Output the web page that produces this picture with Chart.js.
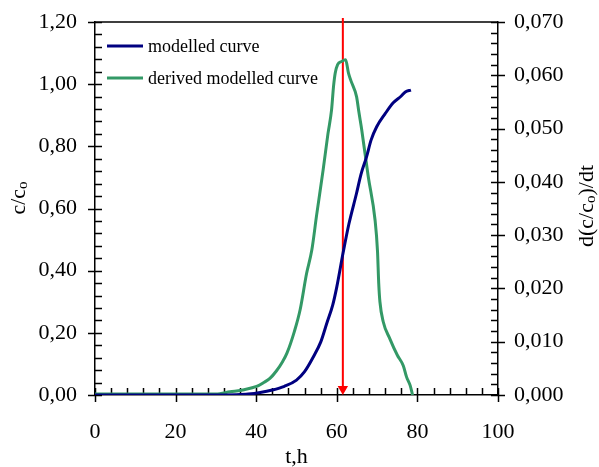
<!DOCTYPE html>
<html>
<head>
<meta charset="utf-8">
<script src="https://cdn.jsdelivr.net/npm/chart.js@4/dist/chart.umd.min.js"></script>
<style>
html, body { margin: 0; padding: 0; background: #fff; }
</style>
</head>
<body>
<canvas id="myChart" width="599" height="467"></canvas>
<script>
// modelled curve (left axis, c/co)
var tModel = [0, 30, 35, 38, 41, 44, 47, 50, 52, 54.2, 56, 57.5, 59, 60, 61.6, 63, 64.9, 66, 67.4, 68.5, 69.9, 72, 74, 76, 77, 78.4];
var cModel = [0, 0, 0.001, 0.003, 0.008, 0.016, 0.028, 0.048, 0.075, 0.123, 0.17, 0.23, 0.29, 0.348, 0.46, 0.55, 0.649, 0.71, 0.767, 0.82, 0.863, 0.905, 0.94, 0.962, 0.975, 0.981];

// derived modelled curve (right axis, d(c/co)/dt)
var tDeriv = [0, 30, 33.5, 37, 40.1, 42, 43.4, 45, 46.5, 47.6, 49.5, 50.9, 52.5, 53.8, 55, 56.6, 57.8, 58.7, 59.2, 59.6, 60.2, 61.2, 62.2, 62.9, 63.5, 64.9, 65.5, 66.2, 67.8, 69.5, 70.1, 70.4, 70.7, 71.5, 73.2, 75, 76.5, 77.3, 78.2, 78.8];
var dDeriv = [0.0002, 0.0002, 0.0006, 0.001, 0.0016, 0.0024, 0.0031, 0.0045, 0.0062, 0.0078, 0.012, 0.016, 0.0228, 0.0272, 0.0338, 0.0422, 0.049, 0.0535, 0.058, 0.0604, 0.062, 0.0626, 0.0629, 0.0604, 0.059, 0.056, 0.053, 0.0497, 0.041, 0.0328, 0.027, 0.021, 0.0175, 0.0138, 0.0105, 0.0075, 0.0055, 0.0034, 0.0018, 0];

// red marker (t, c/co from top to arrow point)
var tMarker = [61.5, 61.5];
var cMarker = [1.213, 0.019];

var xTicks = { min: 0, max: 100, step: 20 };
var yTicks = { min: 0, max: 1.2, step: 0.2 };
var y2Ticks = { min: 0, max: 0.07, step: 0.01 };

var serif = "'Liberation Serif', 'Times New Roman', serif";

function toPoints(xs, ys) {
    var pts = [];
    for (var i = 0; i < xs.length; i++) {
        pts.push({ x: xs[i], y: ys[i] });
    }
    return pts;
}

function comma(v, d) {
    return v.toFixed(d).replace('.', ',');
}

//засечки на осях, рамка, подписи и легенда
var decorPlugin = {
    id: 'decor',
    beforeDatasetsDraw: function(chart) {
        var ctx = chart.ctx;
        var a = chart.chartArea;
        var sx = chart.scales.x, sy = chart.scales.y, sy2 = chart.scales.y2;
        ctx.save();
        ctx.strokeStyle = '#000';
        ctx.lineWidth = 1.5;
        ctx.beginPath();
        // top frame line
        ctx.moveTo(a.left, a.top);
        ctx.lineTo(a.right, a.top);
        // x ticks
        for (var i = 0; i <= 25; i++) {
            var px = Math.round(sx.getPixelForValue(i * xTicks.step / 5)) + 0.5;
            var major = i % 5 === 0;
            ctx.moveTo(px, a.bottom + (major ? 7 : 0));
            ctx.lineTo(px, a.bottom - 7);
        }
        // left ticks
        for (var i = 0; i <= 30; i++) {
            var py = Math.round(sy.getPixelForValue(i * yTicks.step / 5)) + 0.5;
            var major = i % 5 === 0;
            ctx.moveTo(a.left - (major ? 7 : 0), py);
            ctx.lineTo(a.left + 7, py);
        }
        // right ticks
        for (var i = 0; i <= 35; i++) {
            var py = Math.round(sy2.getPixelForValue(i * y2Ticks.step / 5)) + 0.5;
            var major = i % 5 === 0;
            ctx.moveTo(a.right + (major ? 7 : 0), py);
            ctx.lineTo(a.right - 7, py);
        }
        ctx.stroke();
        ctx.restore();
    },
    afterDraw: function(chart) {
        var ctx = chart.ctx;
        var a = chart.chartArea;
        ctx.save();
        ctx.fillStyle = '#000';
        ctx.textBaseline = 'middle';

        // x title
        ctx.font = '22px ' + serif;
        ctx.textAlign = 'center';
        ctx.fillText('t,h', (a.left + a.right) / 2, 457);

        // rotated titles with subscript o
        function subTitle(x, y, parts) {
            ctx.save();
            ctx.translate(x, y);
            ctx.rotate(-Math.PI / 2);
            var total = 0;
            parts.forEach(function(p) {
                ctx.font = (p.sub ? '15px ' : '22px ') + serif;
                total += ctx.measureText(p.t).width;
            });
            var cx = -total / 2;
            ctx.textAlign = 'left';
            parts.forEach(function(p) {
                ctx.font = (p.sub ? '15px ' : '22px ') + serif;
                ctx.fillText(p.t, cx, p.sub ? 4 : 0);
                cx += ctx.measureText(p.t).width;
            });
            ctx.restore();
        }
        subTitle(19, 198, [{ t: 'c/c' }, { t: 'o', sub: true }]);
        subTitle(587, 206, [{ t: 'd(c/c' }, { t: 'o', sub: true }, { t: ')/dt' }]);

        // legend
        var items = chart.data.datasets.filter(function(d) { return d.label; });
        ctx.font = '18px ' + serif;
        ctx.textAlign = 'left';
        for (var i = 0; i < items.length; i++) {
            var y = 46 + i * 32;
            ctx.strokeStyle = items[i].borderColor;
            ctx.lineWidth = 3;
            ctx.beginPath();
            ctx.moveTo(107, y);
            ctx.lineTo(143, y);
            ctx.stroke();
            ctx.fillText(items[i].label, 148, y + 1);
        }
        ctx.restore();
    }
};

function fitVertical(w) {
    return function(scale) {
        scale.width = w;
        scale.paddingTop = 0;
        scale.paddingBottom = 0;
    };
}

var ctx = document.getElementById('myChart').getContext('2d');
var myLineChart = new Chart(ctx, {
    type: 'scatter',
    data: {
        datasets: [
            {
                label: 'modelled curve',
                data: toPoints(tModel, cModel),
                yAxisID: 'y',
                showLine: true,
                borderColor: '#000080',
                borderWidth: 3,
                pointRadius: 0,
                cubicInterpolationMode: 'monotone'
            },
            {
                label: 'derived modelled curve',
                data: toPoints(tDeriv, dDeriv),
                yAxisID: 'y2',
                showLine: true,
                borderColor: '#339966',
                borderWidth: 3,
                pointRadius: 0,
                cubicInterpolationMode: 'monotone'
            },
            {
                data: toPoints(tMarker, cMarker),
                yAxisID: 'y',
                showLine: true,
                borderColor: '#ff0000',
                backgroundColor: '#ff0000',
                borderWidth: 2,
                pointStyle: 'triangle',
                rotation: 180,
                pointRadius: [0, 4],
                clip: false
            }
        ]
    },
    options: {
        responsive: false,
        animation: false,
        devicePixelRatio: 1,
        layout: { padding: { top: 22, left: 0, right: 0, bottom: 0 } },
        plugins: {
            legend: { display: false },
            tooltip: { enabled: false }
        },
        scales: {
            x: {
                type: 'linear',
                min: xTicks.min,
                max: xTicks.max,
                grid: { display: false, drawTicks: false },
                border: { display: true, color: '#000', width: 1.5 },
                ticks: {
                    stepSize: xTicks.step,
                    color: '#000',
                    font: { family: serif, size: 22 },
                    padding: 24,
                    maxRotation: 0
                },
                afterFit: function(scale) {
                    scale.height = 72;
                    scale.paddingLeft = 0;
                    scale.paddingRight = 0;
                }
            },
            y: {
                position: 'left',
                min: yTicks.min,
                max: yTicks.max,
                grid: { display: false, drawTicks: false },
                border: { display: true, color: '#000', width: 1.5 },
                ticks: {
                    stepSize: yTicks.step,
                    color: '#000',
                    font: { family: serif, size: 22 },
                    padding: 18,
                    callback: function(v) { return comma(v, 2); }
                },
                afterFit: fitVertical(95)
            },
            y2: {
                position: 'right',
                min: y2Ticks.min,
                max: y2Ticks.max,
                grid: { display: false, drawTicks: false },
                border: { display: true, color: '#000', width: 1.5 },
                ticks: {
                    stepSize: y2Ticks.step,
                    color: '#000',
                    font: { family: serif, size: 22 },
                    padding: 16,
                    callback: function(v) { return comma(v, 3); }
                },
                afterFit: fitVertical(101)
            }
        }
    },
    plugins: [decorPlugin]
});
</script>
</body>
</html>
